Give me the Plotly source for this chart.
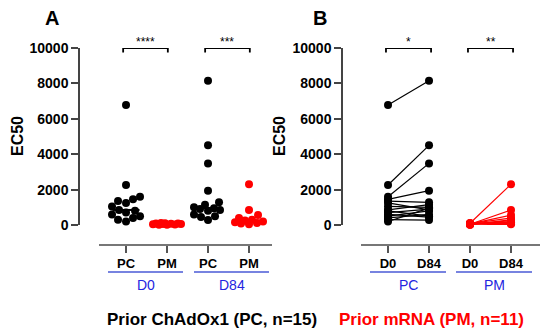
import numpy as np
import plotly.graph_objects as go

# ---------------- data ----------------
groups_A = ["PC", "PM", "PC", "PM"]
days = ["D0", "D84"]
y_ticks = [0, 2000, 4000, 6000, 8000, 10000]

pc_d0 = [6780, 2260, 1600, 1450, 1350, 1250, 1050, 850, 800, 700, 600, 500, 400, 300, 200]
pc_d84 = [8150, 4500, 3480, 1940, 1280, 850, 1000, 1150, 500, 900, 450, 800, 600, 280, 950]
pm_d0 = [100, 40, 60, 80, 20, 30, 50, 70, 90, 110, 10]
pm_d84 = [2300, 850, 560, 400, 300, 250, 200, 150, 120, 80, 40]

sig_A = ["****", "***"]
sig_B = ["*", "**"]

# ---------------- layout helpers ----------------
# page body has an 8px margin; size the figure so it fits the 550x332 window
OFF = 8
W, H = 550 - OFF, 332 - OFF
FONT = "Liberation Sans, Arial, sans-serif"
BLACK = "#000000"
RED = "#ff0000"
BLUE_T = "#2424e0"
BLUE_L = "#4a5ad6"
AX = "#444444"


def px(x):
    return (x - OFF) / W


def py(y):
    return 1 - (y - OFF) / H


Y_DOM = [py(225), py(48)]
X_POS = py(245)


def swarm(vals, D=7.5, cap=14, xs=41.0, ys=177 / 10000):
    vals = np.asarray(vals, float)
    order = np.argsort(vals)
    cands = sorted(range(-cap, cap + 1), key=lambda c: (abs(c), c))
    placed = []
    offs = np.zeros(len(vals))
    for i in order:
        y = vals[i] * ys
        best, bestd = 0, -1
        for c in cands:
            md = min((np.hypot(c - a, y - b) for a, b in placed), default=1e9)
            if md >= D:
                best = c
                break
            if md > bestd:
                bestd, best = md, c
        placed.append((best, y))
        offs[i] = best / xs
    return offs


fig = go.Figure()

# ---------------- Panel A ----------------
colsA = [BLACK, RED, BLACK, RED]
dataA = [pc_d0, pm_d0, pc_d84, pm_d84]
for k, (vals, col) in enumerate(zip(dataA, colsA)):
    xo = k + swarm(vals)
    fig.add_trace(go.Scatter(x=xo, y=vals, mode="markers", xaxis="x", yaxis="y",
                             marker=dict(color=col, size=8, line=dict(width=0)),
                             cliponaxis=False, showlegend=False))
    med = float(np.median(vals))
    fig.add_trace(go.Scatter(x=[k - 0.33, k + 0.33], y=[med, med], mode="lines",
                             xaxis="x", yaxis="y", line=dict(color=col, width=2),
                             cliponaxis=False, showlegend=False))

# ---------------- Panel B ----------------
for d0s, d84s, col, base in [(pc_d0, pc_d84, BLACK, 0), (pm_d0, pm_d84, RED, 2)]:
    xs, ys = [], []
    for a, b in zip(d0s, d84s):
        xs += [base, base + 1, None]
        ys += [a, b, None]
    fig.add_trace(go.Scatter(x=xs, y=ys, mode="lines+markers", xaxis="x2", yaxis="y2",
                             line=dict(color=col, width=1.2),
                             marker=dict(color=col, size=8, line=dict(width=0)),
                             cliponaxis=False, showlegend=False, connectgaps=False))

shapes = []
annotations = []


def bracket(xref, yref, x0, x1, label):
    shapes.append(dict(type="path", xref=xref, yref=yref,
                       path=f"M {x0},9750 L {x0},10000 L {x1},10000 L {x1},9750",
                       line=dict(color=BLACK, width=1.8)))
    annotations.append(dict(x=(x0 + x1) / 2, y=10000, xref=xref, yref=yref, text=label,
                            showarrow=False, xanchor="center", yanchor="bottom", yshift=-3,
                            font=dict(family=FONT, size=12, color=BLACK)))


bracket("x", "y", -0.07, 1.02, sig_A[0])
bracket("x", "y", 1.93, 3.02, sig_A[1])
bracket("x2", "y2", -0.05, 1.05, sig_B[0])
bracket("x2", "y2", 1.95, 3.05, sig_B[1])


def ann(x, y, text, size, color, **kw):
    d = dict(x=px(x), y=py(y), xref="paper", yref="paper", text=text, showarrow=False,
             xanchor="center", yanchor="middle", borderpad=0,
             font=dict(family=FONT, size=size, color=color))
    d.update(kw)
    annotations.append(d)


# group lines and labels
for (xa, xb, lbl) in [(108, 183, "D0"), (194, 269, "D84"), (370, 446, "PC"), (456, 532, "PM")]:
    shapes.append(dict(type="line", xref="paper", yref="paper", x0=px(xa), x1=px(xb),
                       y0=py(272), y1=py(272), line=dict(color=BLUE_L, width=1.5)))
    ann((xa + xb) / 2, 285, lbl, 14, BLUE_T)

ann(52, 18, "<b>A</b>", 20, BLACK)
ann(320, 18, "<b>B</b>", 20, BLACK)
ann(17, 136, "<b>EC50</b>", 16, BLACK, textangle=-90)
ann(279, 136, "<b>EC50</b>", 16, BLACK, textangle=-90)
ann(212, 319, "<b>Prior ChAdOx1 (PC, n=15)</b>", 17, BLACK)
ann(431, 319, "<b>Prior mRNA (PM, n=11)</b>", 17, RED)

ytxt = [f"<b>{v}</b>" for v in y_ticks]


def yax(pos):
    return dict(domain=Y_DOM, range=[0, 10000], anchor="free", position=pos,
                showline=True, linecolor=AX, linewidth=1.5, ticks="outside", ticklen=7,
                tickwidth=1.5, tickcolor=AX, tickvals=y_ticks, ticktext=ytxt,
                tickfont=dict(family=FONT, size=14, color=BLACK), showgrid=False,
                zeroline=False, fixedrange=True, automargin=False)


def xax(d0, d1, r0, r1, labels):
    return dict(domain=[px(d0), px(d1)], range=[r0, r1], anchor="free", position=X_POS,
                showline=True, linecolor="#777777", linewidth=1.5, ticks="outside", ticklen=7,
                tickwidth=1.5, tickcolor="#555555", tickvals=[0, 1, 2, 3],
                ticktext=[f"<b>{t}</b>" for t in labels],
                tickfont=dict(family=FONT, size=13, color=BLACK), showgrid=False,
                zeroline=False, fixedrange=True, automargin=False)


fig.update_layout(
    width=W, height=H, autosize=False,
    margin=dict(l=0, r=0, t=0, b=0, pad=0, autoexpand=False),
    paper_bgcolor="white", plot_bgcolor="rgba(0,0,0,0)",
    xaxis=xax(99, 272, -0.659, 3.561, groups_A),
    yaxis=yax(px(79)),
    xaxis2=xax(361, 540, -0.659, 3.707, days * 2),
    yaxis2=yax(px(342)),
    shapes=shapes, annotations=annotations, showlegend=False,
)

fig.write_html("out.html")
